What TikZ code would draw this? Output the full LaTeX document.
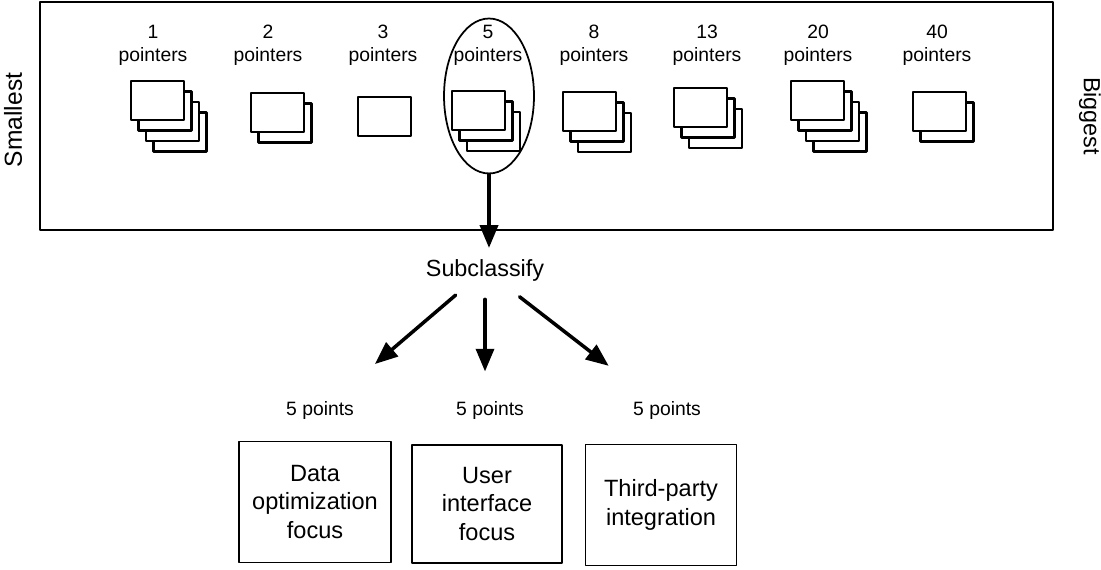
\documentclass[tikz,border=0pt]{standalone}
\usepackage{fontspec}
\setmainfont{Liberation Sans}
\usepackage{tikz}
\usetikzlibrary{arrows}
\usetikzlibrary{shapes.geometric}
\tikzset{
card/.style={draw,fill=white,line width=1.2pt,line join=round},
ptrlabel/.style={align=center,font=\fontsize{11}{13}\selectfont},
ptslabel/.style={font=\fontsize{11}{13}\selectfont},
focusbox/.style={draw,line width=1pt,align=center,inner sep=0pt,
font=\fontsize{13.4}{16.2}\selectfont},
thick arrow/.style={->,line width=2pt}
}

\begin{document}
\begin{tikzpicture}[line cap=round,line join=round,>=triangle 45,x=0.02cm,
y=-0.02cm]
\useasboundingbox (0,0) rectangle (1101,570);
% Khung lon phia tren
\draw[line width=0.9pt] (40,2) rectangle (1053,230);
\node[rotate=90,font=\fontsize{14}{16}\selectfont] (smallest) at (13,120) {Smallest};
\node[rotate=-90,font=\fontsize{13.3}{15}\selectfont] (biggest) at (1090,116) {Biggest};
% Nhan so diem
\foreach \px/\pn/\pname in {153/1/p1,268/2/p2,383/3/p3,488/5/p5,594/8/p8,
707/13/p13,818/20/p20,937/40/p40}
\node[ptrlabel] (\pname) at (\px,45) {\pn\\pointers};
% Cac chong the
\foreach \cx/\cy/\cn in {131/81/4,251/93/2,358/97/1,452/91/3,563/92/3,
674/88/3,791/81/4,913/92/2}
{\foreach \k in {\cn,...,1}
\draw[card] ({\cx+7.5*(\k-1)},{\cy+10.5*(\k-1)}) rectangle +(53,39);}
% Vong elip quanh 5 pointers
\node[draw,ellipse,line width=1pt,minimum width=1.8cm,minimum height=3.1cm,
inner sep=0pt] (ell) at (489,96) {};
\node[font=\fontsize{13.3}{15}\selectfont] (sub) at (485,270) {Subclassify};
\draw[thick arrow,shorten >=3pt] (ell.south) -- (ell.south |- sub.north);
% Ba nhanh
\node[ptslabel] (pts1) at (320,411) {5 points};
\node[ptslabel] (pts2) at (490,411) {5 points};
\node[ptslabel] (pts3) at (667,411) {5 points};
\draw[thick arrow,shorten <=7pt,shorten >=28pt] (sub) -- (pts1);
\draw[thick arrow,shorten <=7pt,shorten >=14pt] (sub.south) -- (sub.south |- pts2.north);
\draw[thick arrow,shorten <=9pt,shorten >=28pt] (sub) -- (pts3);
\node[focusbox,minimum width=3.04cm,minimum height=2.42cm] (box1) at (315,502)
{Data\\optimization\\focus};
\node[focusbox,minimum width=3cm,minimum height=2.36cm] (box2) at (487,504)
{User\\interface\\focus};
\node[focusbox,minimum width=3.02cm,minimum height=2.42cm] (box3) at (661,505)
{Third-party\\integration};
\end{tikzpicture}
\end{document}
